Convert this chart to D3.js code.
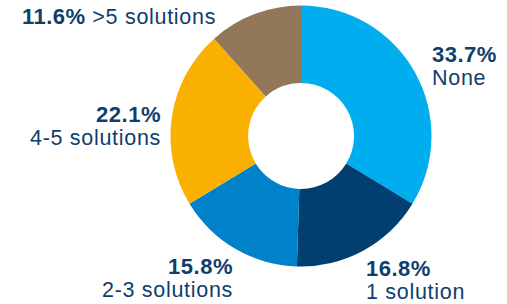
<!DOCTYPE html>
<html>
<head>
<meta charset="utf-8">
<script src="https://cdn.jsdelivr.net/npm/d3@7"></script>
<style>
  html, body { margin: 0; padding: 0; background: #fff; }
  svg text { font-family: "Liberation Sans", Arial, Helvetica, sans-serif; fill: #0f3e6d; }
</style>
</head>
<body>
<div id="chart"></div>
<script>
// data, clockwise from 12 o'clock
var categories = ["None", "1 solution", "2-3 solutions", "4-5 solutions", ">5 solutions"]
var shares = [33.7, 16.8, 15.8, 22.1, 11.6]
var colors = ["#00aeef", "#003f70", "#0082ca", "#f9b000", "#93775a"]

// where each label sits: [x, y of first line, anchor, inline]
var labelPos = [
  [432, 62, "start", false],
  [366, 276, "start", false],
  [233, 274, "end", false],
  [161, 122, "end", false],
  [22, 24, "start", true]
]

var width = 507
var height = 304
var cx = 301, cy = 136
var outerR = 130.5, innerR = 53

var svg = d3.select("#chart").append("svg")
  .attr("width", width)
  .attr("height", height)

var data = categories.map(function(c, i) { return {name: c, value: shares[i], color: colors[i]} })

var pie = d3.pie().sort(null).value(function(d) { return d.value })
var arc = d3.arc().innerRadius(innerR).outerRadius(outerR)

svg.append("g")
  .attr("transform", "translate(" + cx + "," + cy + ")")
  .selectAll("path")
  .data(pie(data))
  .join("path")
  .attr("d", arc)
  .attr("fill", function(d) { return d.data.color })

// labels
var lab = svg.append("g").selectAll("text")
  .data(data)
  .join("text")
  .attr("font-size", "21.5px")
  .attr("letter-spacing", "0.7px")
  .attr("text-anchor", function(d, i) { return labelPos[i][2] })

lab.each(function(d, i) {
  var t = d3.select(this)
  var p = labelPos[i]
  var pct = d.value.toFixed(1) + "%"
  if (p[3]) {
    t.attr("x", p[0]).attr("y", p[1])
    t.append("tspan").attr("font-weight", "bold").attr("font-size", "22px")
      .attr("letter-spacing", "0.5px").text(pct)
    t.append("tspan").text("\u00a0" + d.name)
  } else {
    t.append("tspan").attr("x", p[0]).attr("y", p[1])
      .attr("font-weight", "bold").attr("font-size", "22px")
      .attr("letter-spacing", "0.5px").text(pct)
    t.append("tspan").attr("x", p[0]).attr("dy", 22.5).text(d.name)
  }
})
</script>
</body>
</html>
